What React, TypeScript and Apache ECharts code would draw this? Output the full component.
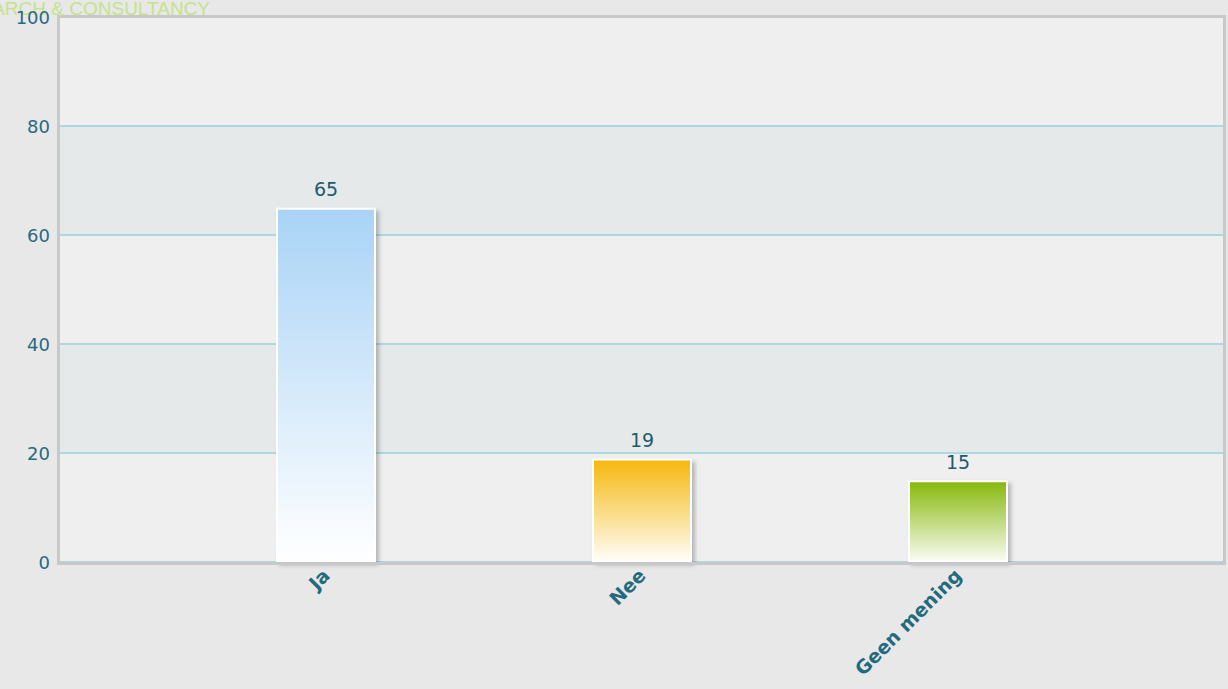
import React, { useEffect, useRef } from "react";
import * as echarts from "echarts";

const categories = ["Ja", "Nee", "Geen mening"];
const values = [65, 19, 15];
const topColors = ["#a9d3f6", "#f5b80c", "#86b80a"];
const bottomColors = ["#ffffff", "#fffdf7", "#fafcf4"];
const yTicks = { min: 0, max: 100, interval: 20 };
const darkBands = [
  [20, 40],
  [60, 80],
];

export default function App() {
  const ref = useRef<HTMLDivElement>(null);
  useEffect(() => {
    if (!ref.current) return;
    const chart = echarts.init(ref.current, undefined, { renderer: "svg" });
    const font = "DejaVu Sans, Verdana, sans-serif";
    chart.setOption({
      animation: false,
      backgroundColor: "#e8e8e8",
      graphic: [
        {
          type: "text",
          x: 210,
          y: -1,
          style: {
            text: "RESEARCH & CONSULTANCY",
            fill: "#c6e28c",
            font: "19px 'Liberation Sans', sans-serif",
            textAlign: "right",
            textVerticalAlign: "top",
          },
          z: 0,
        },
        {
          type: "rect",
          shape: { x: 58.5, y: 16.5, width: 1166, height: 547 },
          style: { fill: "none", stroke: "#c8c8c8", lineWidth: 3 },
          z: 50,
        },
      ],
      grid: [
        {
          left: 58,
          top: 17,
          width: 1167,
          height: 545,
          show: true,
          borderWidth: 0,
          backgroundColor: "#efefef",
        },
        { left: 168, top: 17, width: 948, height: 545 },
      ],
      xAxis: [
        { type: "value", gridIndex: 0, show: false, min: 0, max: 1 },
        {
          type: "category",
          gridIndex: 1,
          data: categories,
          axisLine: { show: false },
          axisTick: { show: false },
          axisLabel: {
            rotate: 45,
            color: "#236b7c",
            fontSize: 19,
            fontWeight: "bold",
            fontFamily: font,
            margin: 10,
          },
        },
      ],
      yAxis: [
        {
          type: "value",
          gridIndex: 0,
          min: yTicks.min,
          max: yTicks.max,
          interval: yTicks.interval,
          axisLine: { show: false },
          axisTick: { show: false },
          axisLabel: {
            color: "#2a6a7e",
            fontSize: 18,
            fontFamily: font,
            margin: 8,
          },
          splitLine: { show: false },
        },
        {
          type: "value",
          gridIndex: 1,
          min: yTicks.min,
          max: yTicks.max,
          interval: yTicks.interval,
          show: false,
          splitLine: { show: false },
        },
        {
          type: "value",
          gridIndex: 0,
          position: "right",
          min: yTicks.min,
          max: yTicks.max,
          interval: yTicks.interval,
          axisLine: { show: false },
          axisTick: { show: false },
          axisLabel: { show: false },
          splitLine: { show: true, lineStyle: { color: "#aed8e0", width: 2 } },
          z: 5,
        },
      ],
      series: [
        {
          type: "line",
          xAxisIndex: 0,
          yAxisIndex: 0,
          data: [],
          silent: true,
          z: 1,
          markArea: {
            silent: true,
            itemStyle: { color: "#e6e9ea" },
            data: darkBands.map(([a, b]) => [{ yAxis: a }, { yAxis: b }]),
          },
        },
        {
          type: "bar",
          xAxisIndex: 1,
          yAxisIndex: 1,
          barWidth: 100,
          z: 10,
          data: values.map((v, i) => ({
            value: v,
            itemStyle: {
              color: new echarts.graphic.LinearGradient(0, 0, 0, 1, [
                { offset: 0, color: topColors[i] },
                { offset: 1, color: bottomColors[i] },
              ]),
            },
          })),
          itemStyle: {
            borderColor: "#ffffff",
            borderWidth: 2,
            shadowColor: "rgba(0,0,0,0.25)",
            shadowBlur: 4,
            shadowOffsetX: 3,
            shadowOffsetY: 3,
          },
          label: {
            show: true,
            position: "top",
            distance: 9,
            color: "#1f5b6d",
            fontSize: 19,
            fontFamily: font,
          },
        },
      ],
    });
    return () => chart.dispose();
  }, []);
  return (
    <div
      ref={ref}
      style={{ position: "absolute", left: 0, top: 0, width: 1228, height: 689 }}
    />
  );
}
